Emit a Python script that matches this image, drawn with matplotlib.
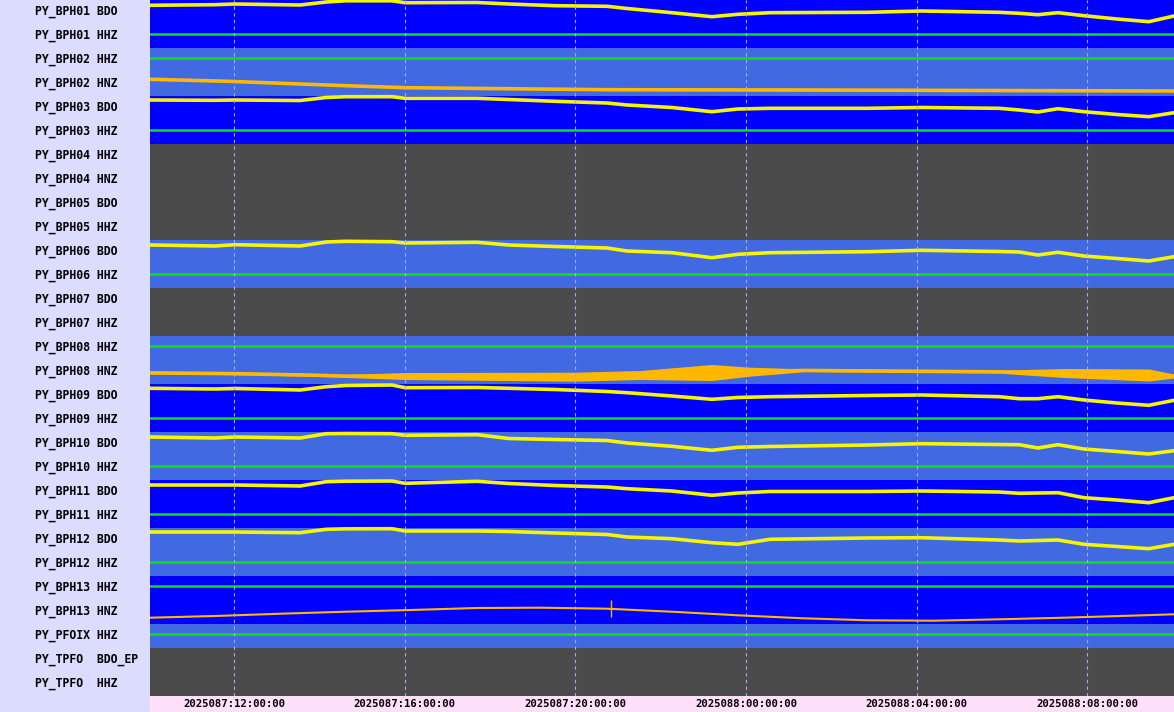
import numpy as np
import matplotlib.pyplot as plt
from matplotlib.patches import Rectangle
from matplotlib.transforms import blended_transform_factory

# row labels (top to bottom)
stations = ["PY_BPH01", "PY_BPH01", "PY_BPH02", "PY_BPH02", "PY_BPH03", "PY_BPH03",
            "PY_BPH04", "PY_BPH04", "PY_BPH05", "PY_BPH05", "PY_BPH06", "PY_BPH06",
            "PY_BPH07", "PY_BPH07", "PY_BPH08", "PY_BPH08", "PY_BPH09", "PY_BPH09",
            "PY_BPH10", "PY_BPH10", "PY_BPH11", "PY_BPH11", "PY_BPH12", "PY_BPH12",
            "PY_BPH13", "PY_BPH13", "PY_PFOIX", "PY_TPFO", "PY_TPFO"]
channels = ["BDO", "HHZ", "HHZ", "HNZ", "BDO", "HHZ",
            "HHZ", "HNZ", "BDO", "HHZ", "BDO", "HHZ",
            "BDO", "HHZ", "HHZ", "HNZ", "BDO", "HHZ",
            "BDO", "HHZ", "BDO", "HHZ", "BDO", "HHZ",
            "HHZ", "HNZ", "HHZ", "BDO_EP", "HHZ"]
# B = data (blue), R = data (royal blue), G = no data (grey)
row_state = "BBRRBBGGGGRRGGRRBBRRBBRRBBRGG"

# time axis, hours since 2025087 00:00
t_start, t_end = 10.03, 34.03
tick_hours = [12, 16, 20, 24, 28, 32]
tick_labels = ["2025087:12:00:00", "2025087:16:00:00", "2025087:20:00:00",
               "2025088:00:00:00", "2025088:04:00:00", "2025088:08:00:00"]

# BDO (pressure) traces: level inside the row, 0 = top, 24 = bottom
bdo_t = [10.03, 11.55, 12.02, 13.55, 14.16, 14.62, 15.70, 16.01, 17.70, 18.44,
         19.52, 20.74, 21.21, 22.26, 23.20, 23.81, 24.56, 26.86, 28.10, 29.93,
         30.40, 30.84, 31.31, 31.92, 32.69, 33.44, 34.03]
bdo = {
    0: [5.3, 4.7, 4.0, 5.0, 2.0, 0.8, 0.8, 2.7, 2.5, 4.0, 5.7, 6.3, 8.5, 12.7,
        16.7, 14.3, 12.7, 12.3, 11.0, 12.3, 13.3, 14.7, 12.7, 15.7, 19.0, 21.7, 16.0],
    4: [4.0, 4.3, 4.0, 4.5, 1.5, 0.7, 0.7, 2.3, 2.3, 3.5, 5.3, 7.0, 9.0, 11.5,
        15.7, 13.0, 12.3, 12.3, 11.5, 12.3, 14.0, 16.0, 12.7, 15.7, 18.5, 20.7, 16.7],
    10: [5.0, 6.0, 4.7, 6.0, 2.0, 1.3, 1.7, 3.0, 2.3, 5.0, 6.5, 8.0, 11.0, 12.7,
         17.7, 14.3, 12.7, 11.7, 10.3, 11.5, 12.0, 15.0, 12.3, 16.0, 18.5, 21.0, 16.7],
    16: [4.3, 5.0, 4.5, 6.0, 2.7, 1.5, 1.0, 3.7, 3.5, 4.3, 5.5, 7.5, 8.7, 12.0,
         15.3, 13.5, 12.7, 11.5, 11.0, 12.7, 14.7, 14.7, 12.7, 16.0, 19.0, 21.3, 16.3],
    18: [5.0, 6.0, 5.0, 6.0, 1.7, 1.5, 1.7, 3.3, 2.7, 6.5, 7.5, 8.5, 11.0, 14.3,
         18.3, 15.3, 14.5, 13.0, 11.7, 12.5, 12.7, 16.0, 12.7, 17.0, 19.5, 22.0, 18.7],
    20: [5.0, 5.0, 5.0, 6.0, 1.7, 1.2, 1.0, 3.3, 1.3, 3.5, 5.5, 7.0, 8.7, 11.0,
         15.3, 13.0, 11.5, 11.5, 11.0, 12.0, 13.3, 13.0, 12.7, 17.7, 20.0, 22.7, 17.7],
    22: [4.0, 4.0, 4.0, 4.7, 1.3, 0.8, 0.7, 3.0, 3.0, 3.5, 5.0, 6.5, 9.0, 10.7,
         14.7, 16.3, 11.3, 10.0, 9.7, 12.0, 13.0, 12.5, 12.0, 16.3, 18.5, 20.7, 16.3],
}

# HNZ traces
bph02_t = [10.03, 11.86, 14.62, 16.01, 20.74, 25.34, 34.03]
bph02_v = [7.3, 9.3, 13.7, 15.7, 17.7, 18.0, 19.0]

bph08_t = [10.03, 12.02, 13.85, 14.62, 16.01, 19.99, 21.52, 23.20, 24.09, 25.34,
           29.93, 31.45, 33.44, 34.03]
bph08_mid = [12.7, 13.5, 15.0, 16.0, 16.0, 16.7, 15.0, 12.5, 11.7, 10.3, 11.7, 13.0, 15.0, 16.0]
bph08_amp = [1.5, 1.5, 1.5, 1.5, 3.5, 4.5, 4.5, 8.0, 4.5, 1.5, 1.5, 4.5, 6.0, 2.0]

bph13_t = [10.03, 11.55, 13.10, 14.62, 16.15, 17.70, 19.22, 20.74, 22.26, 23.81,
           25.34, 26.86, 28.41, 29.93, 31.45, 33.00, 34.03]
bph13_v = [17.7, 16.0, 13.7, 11.7, 10.0, 8.0, 7.7, 8.7, 11.7, 15.3, 18.3, 20.3,
           20.7, 19.3, 17.7, 15.7, 14.3]
bph13_spike_t = 20.84
bph13_spike = (0.0, 16.7)

# HHZ traces are flat
hhz_rows = [1, 2, 5, 11, 14, 17, 19, 21, 23, 24, 26]
hhz_level = 10.0

bg_colors = {"B": "#0000FF", "R": "#4169E1", "G": "#4B4B4B"}
row_px = 24.0

fig = plt.figure(figsize=(11.74, 7.12), dpi=100, facecolor="#DCDCFF")
fig.patches.append(Rectangle((150 / 1174, 0), 1024 / 1174, 16 / 712,
                             transform=fig.transFigure, color="#FFE0FA", zorder=-1))
ax = fig.add_axes([150 / 1174, 16 / 712, 1024 / 1174, 696 / 712])

n = len(stations)
for i, s in enumerate(row_state):
    ax.axhspan(i, i + 1, color=bg_colors[s], lw=0, zorder=0)

for r, vals in bdo.items():
    ax.plot(bdo_t, r + np.array(vals) / row_px, color="#F5F500", lw=2.6, zorder=3)

ax.plot(bph02_t, 3 + np.array(bph02_v) / row_px, color="#FFB800", lw=2.6, zorder=3)

mid = 15 + np.array(bph08_mid) / row_px
amp = np.array(bph08_amp) / row_px
ax.fill_between(bph08_t, mid - amp, mid + amp, color="#FFB800", lw=0, zorder=3)
ax.plot(bph08_t, mid, color="#FFB800", lw=2.4, zorder=3)

ax.plot(bph13_t, 25 + np.array(bph13_v) / row_px, color="#FFB800", lw=1.5, zorder=3)
ax.vlines(bph13_spike_t, 25 + bph13_spike[0] / row_px, 25 + bph13_spike[1] / row_px,
          color="#FFB800", lw=1.0, zorder=3)

for r in hhz_rows:
    ax.axhline(r + hhz_level / row_px, color="#10E010", lw=1.8, zorder=3)

for h in tick_hours:
    ax.axvline(h, color="#A8A8FF", lw=0.8, ls=(0, (3, 3)), zorder=4)

ax.set_xlim(t_start, t_end)
ax.set_ylim(n, 0)
ax.set_xticks([])
ax.set_yticks([])
for sp in ax.spines.values():
    sp.set_visible(False)

lab_tr = blended_transform_factory(fig.transFigure, ax.transData)
for i in range(n):
    txt = stations[i].ljust(8) + " " + channels[i]
    ax.text(35 / 1174, i + 0.5, txt, transform=lab_tr, ha="left", va="center",
            family="DejaVu Sans Mono", weight="bold", fontsize=8.3, color="black",
            clip_on=False)

tick_tr = blended_transform_factory(ax.transData, fig.transFigure)
for h, lab in zip(tick_hours, tick_labels):
    ax.text(h, 8 / 712, lab, transform=tick_tr, ha="center", va="center",
            family="DejaVu Sans Mono", weight="bold", fontsize=7.7, color="black",
            clip_on=False)

fig.savefig("out.png", dpi=100, facecolor=fig.get_facecolor())
